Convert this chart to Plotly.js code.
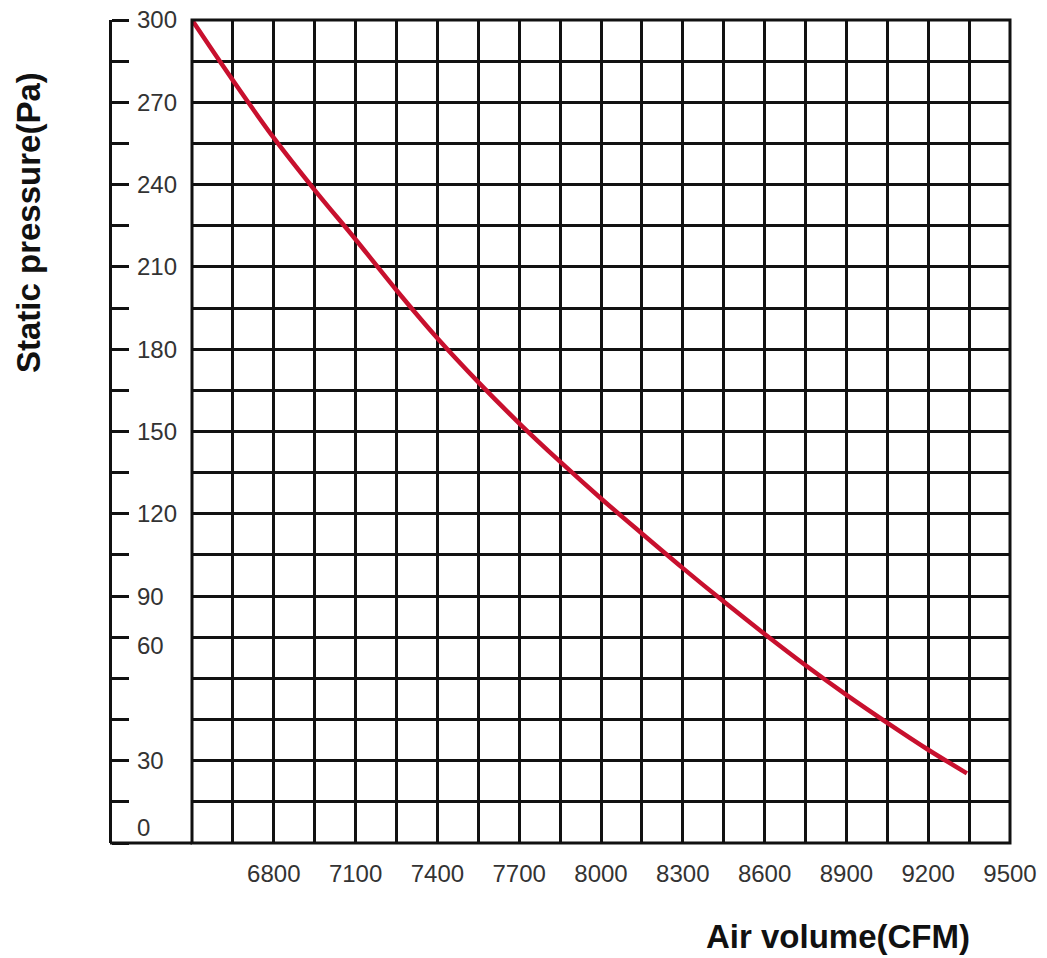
<!DOCTYPE html>
<html>
<head>
<meta charset="utf-8">
<script src="https://cdn.plot.ly/plotly-3.0.1.min.js"></script>
<style>html,body{margin:0;padding:0;background:#fff;}#chart{width:1047px;height:958px;}</style>
</head>
<body>
<div id="chart"></div>
<script>
// Data
const airVolume = [6500, 6650, 6800, 6950, 7100, 7250, 7400, 7550, 7700, 7850, 8000, 8150, 8300, 8450, 8600, 8750, 8900, 9050, 9200, 9342];
const staticPressure = [300, 278, 257, 238, 220, 201.5, 184, 168, 153, 139, 125.6, 112.8, 100.2, 88, 76.2, 64.8, 54, 43.8, 34, 25.4];

const xTickVals = [6800, 7100, 7400, 7700, 8000, 8300, 8600, 8900, 9200, 9500];
const xTickText = ['6800', '7100', '7400', '7700', '8000', '8300', '8600', '8900', '9200', '9500'];

// label positions as they appear on the reference (60 and 0 are drawn off their ticks)
const yTickPos = [300, 270, 240, 210, 180, 150, 120, 90, 72, 30, 5.5];
const yTickText = ['300', '270', '240', '210', '180', '150', '120', '90', '60', '30', '0'];

const xTitle = 'Air volume(CFM)';
const yTitle = 'Static pressure(Pa)';

const INK = '#111';
const tickFont = {family: 'Liberation Sans, Arial, sans-serif', size: 24, color: '#333'};
const titleFont = {family: 'Liberation Sans, Arial, sans-serif', size: 33, color: '#111', weight: 'bold'};
const gridStart = 82 / 900;

const traces = [
  {
    x: airVolume, y: staticPressure, type: 'scatter', mode: 'lines',
    line: {color: '#c8102e', width: 4.5, shape: 'spline'},
    xaxis: 'x', yaxis: 'y', hoverinfo: 'x+y', showlegend: false
  },
  {
    x: [], y: [], type: 'scatter', mode: 'lines', xaxis: 'x', yaxis: 'y2',
    showlegend: false, hoverinfo: 'skip'
  }
];

const layout = {
  width: 1047, height: 958,
  margin: {l: 110, r: 37, t: 20, b: 115, pad: 0},
  paper_bgcolor: '#fff', plot_bgcolor: '#fff',
  showlegend: false,
  xaxis: {
    domain: [gridStart, 1], range: [6500, 9500],
    tickmode: 'array', tickvals: xTickVals, ticktext: xTickText,
    ticks: '', showgrid: true, gridcolor: INK, gridwidth: 3,
    minor: {tick0: 6500, dtick: 150, showgrid: true, gridcolor: INK, gridwidth: 3, ticks: ''},
    zeroline: false, showline: false,
    tickfont: tickFont, ticklabelstandoff: 14, fixedrange: true
  },
  yaxis: {
    anchor: 'free', position: 0, side: 'right', range: [0, 300],
    tickmode: 'linear', tick0: 0, dtick: 15,
    ticks: 'outside', ticklen: 17, tickwidth: 3, tickcolor: INK,
    showticklabels: false,
    showgrid: true, gridcolor: INK, gridwidth: 3,
    showline: true, linewidth: 3, linecolor: INK, zeroline: false, fixedrange: true
  },
  yaxis2: {
    overlaying: 'y', anchor: 'free', position: 0, side: 'right', range: [0, 300],
    tickmode: 'array', tickvals: yTickPos, ticktext: yTickText,
    ticks: '', showgrid: false, showline: false, zeroline: false,
    tickfont: tickFont, ticklabelstandoff: 26, fixedrange: true
  },
  shapes: [
    {type: 'rect', xref: 'x domain', yref: 'y domain', x0: 0, x1: 1, y0: 0, y1: 1,
     line: {color: INK, width: 3}, fillcolor: 'rgba(0,0,0,0)', layer: 'above'},
    {type: 'line', xref: 'paper', yref: 'paper', x0: 0, x1: gridStart, y0: 0, y1: 0,
     line: {color: INK, width: 3}}
  ],
  annotations: [
    {text: yTitle, xref: 'paper', yref: 'paper', x: -0.0911, y: 0.7533,
     xanchor: 'center', yanchor: 'middle', textangle: -90, showarrow: false, font: titleFont},
    {text: xTitle, xref: 'paper', yref: 'paper', x: 0.8094, y: -0.1142,
     xanchor: 'center', yanchor: 'middle', showarrow: false, font: titleFont}
  ]
};

Plotly.newPlot('chart', traces, layout, {displayModeBar: false, staticPlot: true});
</script>
</body>
</html>
